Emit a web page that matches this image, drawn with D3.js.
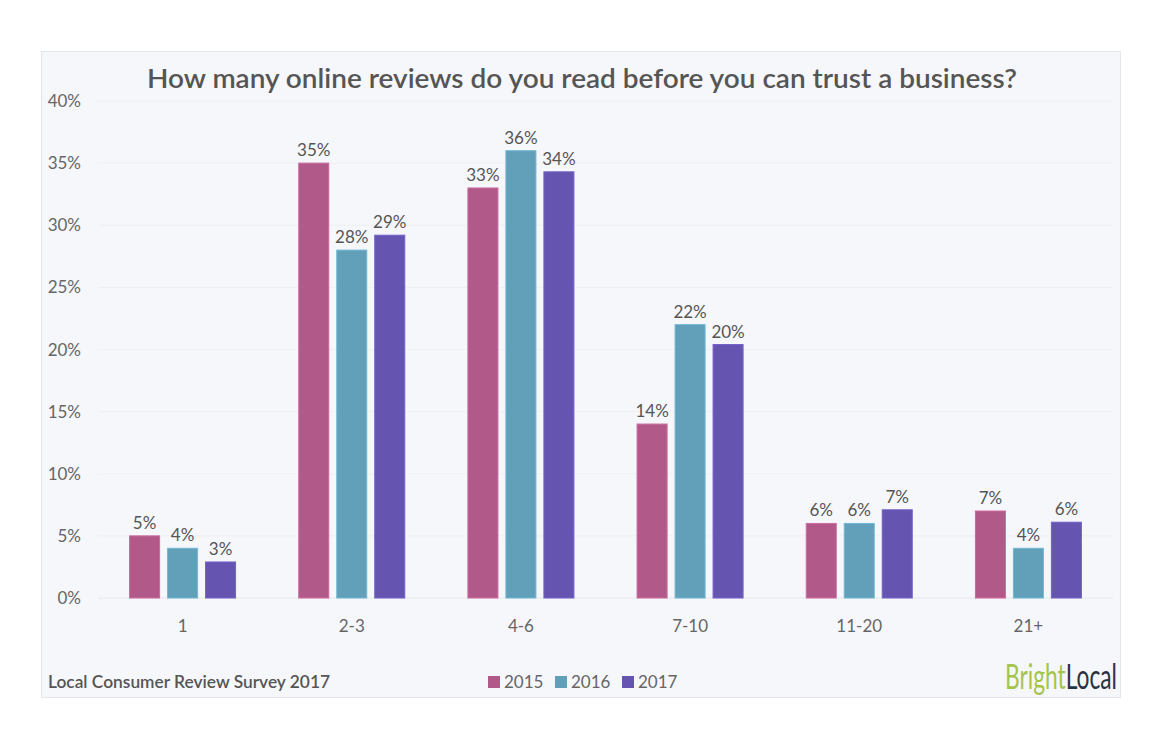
<!DOCTYPE html>
<html>
<head>
<meta charset="utf-8">
<script src="https://cdn.jsdelivr.net/npm/d3@7"></script>
<style>
  body { margin: 0; background: #fff; }
  text { font-family: "Source Sans Pro", Lato, "Open Sans", sans-serif; }
</style>
</head>
<body>
<script>
var width = 1162, height = 744;

// données
var categories = ["1", "2-3", "4-6", "7-10", "11-20", "21+"];
var years = ["2015", "2016", "2017"];
var v2015 = [5, 35, 33, 14, 6, 7];
var v2016 = [4, 28, 36, 22, 6, 4];
var v2017 = [2.9, 29.2, 34.3, 20.4, 7.1, 6.1];
var yTicks = [0, 5, 10, 15, 20, 25, 30, 35, 40];
var colors = ["#b15a89", "#629fb8", "#6554b0"];

var series = [v2015, v2016, v2017];

var svg = d3.select("body").append("svg")
    .attr("width", width)
    .attr("height", height);

// panneau de fond
svg.append("rect")
    .attr("x", 41.5).attr("y", 51.5)
    .attr("width", 1079).attr("height", 646)
    .attr("fill", "#f5f7fa")
    .attr("stroke", "#e3e6ea");

svg.append("text")
    .attr("x", 582).attr("y", 88)
    .attr("text-anchor", "middle")
    .attr("font-size", 27)
    .attr("font-weight", 600)
    .attr("fill", "#555")
    .attr("textLength", 870)
    .attr("lengthAdjust", "spacingAndGlyphs")
    .text("How many online reviews do you read before you can trust a business?");

var x = d3.scaleBand().domain(categories).range([98, 1113]);
var xInner = d3.scaleBand().domain(years)
    .range([0, 106]).paddingInner(0.21);

var y = d3.scaleLinear().domain([0, 40]).range([598, 101]);

var g = svg.append("g");

// grille
g.selectAll("line.grid")
    .data(yTicks)
    .enter().append("line")
    .attr("class", "grid")
    .attr("x1", 98).attr("x2", 1113)
    .attr("y1", d => y(d)).attr("y2", d => y(d))
    .attr("stroke", d => d === 0 ? "#e6e8eb" : "#eef0f3");

// axe y
g.selectAll("text.ytick")
    .data(yTicks)
    .enter().append("text")
    .attr("class", "ytick")
    .attr("x", 81)
    .attr("y", d => y(d) + 6)
    .attr("text-anchor", "end")
    .attr("font-size", 17)
    .attr("fill", "#666")
    .text(d => d + "%");

// axe x
g.selectAll("text.xtick")
    .data(categories)
    .enter().append("text")
    .attr("class", "xtick")
    .attr("x", d => x(d) + x.bandwidth() / 2)
    .attr("y", 632)
    .attr("text-anchor", "middle")
    .attr("font-size", 17)
    .attr("fill", "#666")
    .text(d => d);

var groups = g.selectAll("g.cat")
    .data(categories)
    .enter().append("g")
    .attr("class", "cat")
    .attr("transform", d => "translate(" + (x(d) + (x.bandwidth() - 106) / 2) + ",0)");

groups.selectAll("rect")
    .data((d, i) => years.map((yr, k) => ({ year: yr, k: k, value: series[k][i] })))
    .enter().append("rect")
    .attr("x", d => xInner(d.year))
    .attr("y", d => y(d.value))
    .attr("width", xInner.bandwidth())
    .attr("height", d => y(0) - y(d.value))
    .attr("fill", d => colors[d.k])
    .attr("stroke", d => d3.color(colors[d.k]).brighter(0.4))
    .attr("stroke-width", 1);

groups.selectAll("text")
    .data((d, i) => years.map((yr, k) => ({ year: yr, k: k, value: series[k][i] })))
    .enter().append("text")
    .attr("x", d => xInner(d.year) + xInner.bandwidth() / 2)
    .attr("y", d => y(d.value) - 7)
    .attr("text-anchor", "middle")
    .attr("font-size", 17)
    .attr("fill", "#555")
    .text(d => Math.round(d.value) + "%");

// pied de page
svg.append("text")
    .attr("x", 48).attr("y", 688)
    .attr("font-size", 16.5)
    .attr("font-weight", 600)
    .attr("fill", "#555")
    .attr("textLength", 282)
    .attr("lengthAdjust", "spacingAndGlyphs")
    .text("Local Consumer Review Survey 2017");

var legend = svg.append("g").attr("transform", "translate(488,682)");
var lg = legend.selectAll("g")
    .data(years)
    .enter().append("g")
    .attr("transform", (d, i) => "translate(" + (i * 67) + ",0)");
lg.append("rect")
    .attr("x", 0).attr("y", -6)
    .attr("width", 12).attr("height", 12)
    .attr("fill", (d, i) => colors[i]);
lg.append("text")
    .attr("x", 16).attr("y", 6)
    .attr("font-size", 17)
    .attr("fill", "#666")
    .text(d => d);

// logo : texte compressé horizontalement
var logo = svg.append("g");
var logoText = logo.append("text")
    .attr("x", 0).attr("y", 0)
    .attr("font-size", 34);
logoText.append("tspan").attr("fill", "#a6c44a").text("Bright");
logoText.append("tspan").attr("fill", "#2a3340").text("Local");
var natural = logoText.node().getComputedTextLength();
logo.attr("transform", "translate(1005,689) scale(" + (112 / natural) + ",1)");
</script>
</body>
</html>
